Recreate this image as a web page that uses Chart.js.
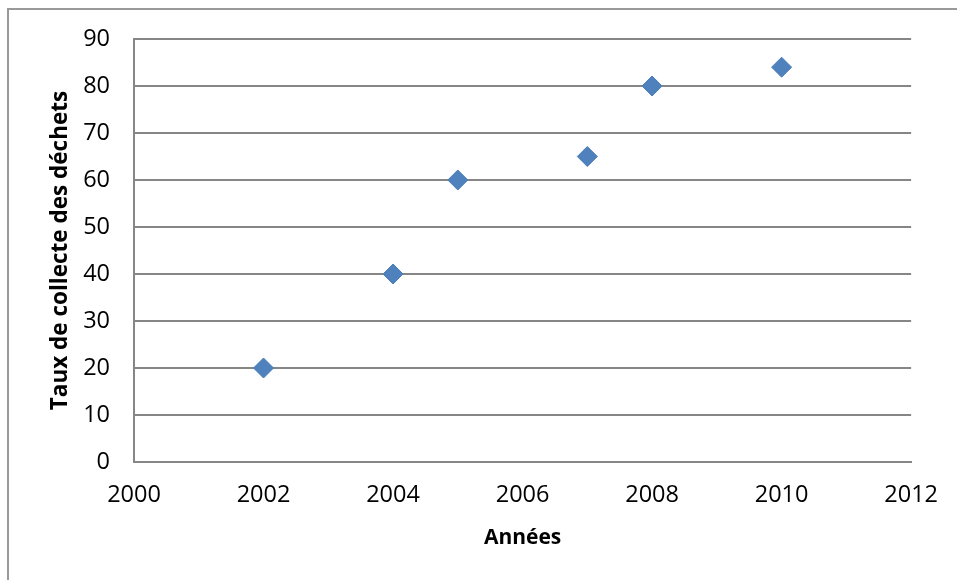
<!DOCTYPE html>
<html>
<head>
<meta charset="utf-8">
<script src="https://cdn.jsdelivr.net/npm/chart.js@4/dist/chart.umd.min.js"></script>
<style>
  html, body { margin: 0; padding: 0; background: #fff; }
  #wrap { width: 957px; height: 580px; position: relative; }
</style>
</head>
<body>
<div id="wrap"><canvas id="tauxChart"></canvas></div>
<script>
// données
const annees = [2002, 2004, 2005, 2007, 2008, 2010];
const taux = [20, 40, 60, 65, 80, 84];
const xTicks = [2000, 2002, 2004, 2006, 2008, 2010, 2012];
const yTicks = [0, 10, 20, 30, 40, 50, 60, 70, 80, 90];

const gris = "#868686";
const police = "'Open Sans', 'Liberation Sans', sans-serif";

// cadre extérieur (seuls les bords haut et gauche sont visibles)
const cadre = {
    id: "cadre",
    beforeDraw(chart) {
        const ctx = chart.ctx;
        ctx.save();
        ctx.fillStyle = "#fff";
        ctx.fillRect(0, 0, chart.width, chart.height);
        ctx.strokeStyle = "#999";
        ctx.lineWidth = 2;
        ctx.strokeRect(8, 9, chart.width + 40, chart.height + 40);
        ctx.restore();
    }
};

const canvas = document.getElementById("tauxChart");
const ctx = canvas.getContext("2d");

new Chart(ctx, {
    type: "scatter",
    data: {
        datasets: [{
            label: "Taux de collecte",
            data: annees.map((a, i) => ({ x: a, y: taux[i] })),
            pointStyle: "rectRot",
            pointRadius: 10,
            pointHoverRadius: 10,
            backgroundColor: "#4F81BD",
            borderColor: "#4A7EBB",
            borderWidth: 1
        }]
    },
    options: {
        responsive: true,
        maintainAspectRatio: false,
        animation: false,
        layout: {
            padding: { left: 0, right: 45, top: 39, bottom: 0 }
        },
        plugins: {
            legend: { display: false },
            tooltip: { enabled: false }
        },
        scales: {
            x: {
                type: "linear",
                min: xTicks[0],
                max: xTicks[xTicks.length - 1],
                afterBuildTicks: axis => { axis.ticks = xTicks.map(v => ({ value: v })); },
                afterFit: axis => { axis.height = 118; },
                grid: { display: false, drawTicks: false },
                border: { display: true, color: gris, width: 2 },
                ticks: {
                    padding: 19,
                    color: "#000",
                    font: { family: police, size: 23.5 },
                    callback: v => String(v)
                },
                title: {
                    display: true,
                    text: "Années",
                    color: "#000",
                    font: { family: police, size: 21, weight: "bold" },
                    padding: { top: 0, bottom: 29 }
                }
            },
            y: {
                min: yTicks[0],
                max: yTicks[yTicks.length - 1],
                afterBuildTicks: axis => { axis.ticks = yTicks.map(v => ({ value: v })); },
                afterFit: axis => { axis.width = 134; },
                grid: { display: true, drawTicks: false, color: gris, lineWidth: 2 },
                border: { display: true, color: gris, width: 2 },
                ticks: {
                    padding: 24,
                    color: "#000",
                    font: { family: police, size: 23.5 }
                },
                title: {
                    display: true,
                    text: "Taux de collecte des déchets",
                    color: "#000",
                    font: { family: police, size: 22.5, weight: "bold" },
                    padding: { top: 47, bottom: 0 }
                }
            }
        }
    },
    plugins: [cadre]
});
</script>
</body>
</html>
